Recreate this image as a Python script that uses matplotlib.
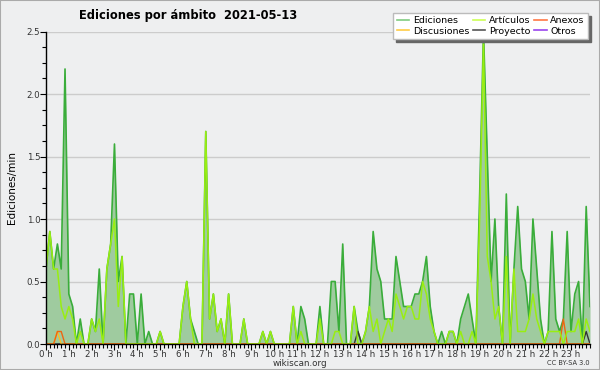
import numpy as np
import matplotlib
matplotlib.use('Agg')
import matplotlib.pyplot as plt
from matplotlib.lines import Line2D
from matplotlib.patches import Rectangle

# edits per minute, 10 minute bins (6 per hour)
ediciones = [
    0.6, 0.9, 0.6, 0.8, 0.6, 2.2,
    0.4, 0.3, 0.0, 0.2, 0.0, 0.0,
    0.2, 0.1, 0.6, 0.0, 0.6, 0.8,
    1.6, 0.5, 0.7, 0.0, 0.4, 0.4,
    0.0, 0.4, 0.0, 0.1, 0.0, 0.0,
    0.1, 0.0, 0.0, 0.0, 0.0, 0.0,
    0.3, 0.5, 0.2, 0.1, 0.0, 0.0,
    1.7, 0.2, 0.4, 0.1, 0.2, 0.0,
    0.4, 0.0, 0.0, 0.0, 0.2, 0.0,
    0.0, 0.0, 0.0, 0.1, 0.0, 0.1,
    0.0, 0.0, 0.0, 0.0, 0.0, 0.3,
    0.0, 0.3, 0.2, 0.0, 0.0, 0.0,
    0.3, 0.0, 0.0, 0.5, 0.5, 0.1,
    0.8, 0.0, 0.0, 0.3, 0.1, 0.0,
    0.1, 0.3, 0.9, 0.6, 0.5, 0.2,
    0.2, 0.2, 0.7, 0.5, 0.3, 0.3,
    0.3, 0.4, 0.4, 0.5, 0.7, 0.3,
    0.1, 0.0, 0.1, 0.0, 0.1, 0.1,
    0.0, 0.2, 0.3, 0.4, 0.2, 0.0,
    1.2, 2.5, 1.5, 0.5, 1.0, 0.3,
    0.0, 1.2, 0.0, 0.6, 1.1, 0.6,
    0.5, 0.2, 1.0, 0.6, 0.2, 0.0,
    0.1, 0.9, 0.2, 0.1, 0.2, 0.9,
    0.1, 0.4, 0.5, 0.0, 1.1, 0.3,
]
articulos = [
    0.6, 0.9, 0.6, 0.6, 0.3, 0.2,
    0.3, 0.2, 0.0, 0.1, 0.0, 0.0,
    0.2, 0.1, 0.2, 0.0, 0.6, 0.8,
    1.0, 0.3, 0.7, 0.0, 0.0, 0.0,
    0.0, 0.0, 0.0, 0.0, 0.0, 0.0,
    0.1, 0.0, 0.0, 0.0, 0.0, 0.0,
    0.3, 0.5, 0.2, 0.0, 0.0, 0.0,
    1.7, 0.2, 0.4, 0.1, 0.2, 0.0,
    0.4, 0.0, 0.0, 0.0, 0.2, 0.0,
    0.0, 0.0, 0.0, 0.1, 0.0, 0.1,
    0.0, 0.0, 0.0, 0.0, 0.0, 0.3,
    0.0, 0.1, 0.0, 0.0, 0.0, 0.0,
    0.2, 0.0, 0.0, 0.0, 0.1, 0.1,
    0.0, 0.0, 0.0, 0.3, 0.0, 0.0,
    0.1, 0.3, 0.1, 0.2, 0.0, 0.1,
    0.2, 0.1, 0.4, 0.3, 0.2, 0.3,
    0.3, 0.2, 0.2, 0.5, 0.4, 0.2,
    0.1, 0.0, 0.0, 0.0, 0.1, 0.1,
    0.0, 0.1, 0.0, 0.0, 0.1, 0.0,
    1.0, 2.4, 0.7, 0.5, 0.2, 0.3,
    0.0, 0.7, 0.0, 0.6, 0.1, 0.1,
    0.1, 0.2, 0.4, 0.2, 0.1, 0.0,
    0.1, 0.1, 0.1, 0.1, 0.0, 0.1,
    0.1, 0.1, 0.2, 0.0, 0.2, 0.1,
]
# sparse series: bin index -> value
anexos_pts = {3: 0.1, 4: 0.1, 136: 0.2}
discusiones_pts = {3: 0.1}
proyecto_pts = {82: 0.1, 142: 0.1}
otros_pts = {}

hours = list(range(24))
hour_labels = [f"{h} h" for h in hours]

n = len(ediciones)
x = np.arange(n) / 6.0


def sparse(pts):
    s = np.zeros(n)
    for k, v in pts.items():
        s[k] = v
    return s


anexos = sparse(anexos_pts)
discusiones = sparse(discusiones_pts)
proyecto = sparse(proyecto_pts)
otros = sparse(otros_pts)

bg = '#eeeff0'
fig = plt.figure(figsize=(6, 3.7), dpi=100, facecolor=bg)
ax = fig.add_axes([46 / 600, 1 - 344 / 370, 544 / 600, 312.5 / 370])
ax.set_facecolor(bg)

ax.fill_between(x, 0, ediciones, color='#9fcb9f', lw=0, zorder=2)
ax.plot(x, ediciones, color='#3aad3a', lw=1.2, zorder=3)
ax.plot(x, otros, color='#9933ee', lw=1.0, zorder=3)
ax.plot(x, proyecto, color='#333333', lw=1.0, zorder=4)
ax.plot(x, discusiones, color='#ffbb22', lw=1.0, zorder=4)
ax.plot(x, anexos, color='#ee6611', lw=1.0, zorder=4)
ax.plot(x, articulos, color='#99ee11', lw=1.1, zorder=5)

ax.set_xlim(0, x[-1])
ax.set_ylim(0, 2.5)

ax.set_xticks(hours)
ax.set_xticklabels(hour_labels)
ax.set_xticks(x, minor=True)
ax.set_yticks([0, 0.5, 1.0, 1.5, 2.0, 2.5])
ax.set_yticklabels(['0.0', '0.5', '1.0', '1.5', '2.0', '2.5'])
ax.set_yticks(np.arange(0, 2.51, 0.125), minor=True)
ax.tick_params(axis='both', which='both', direction='out', labelsize=6.2,
               labelcolor='#333333', color='black', width=0.8)
ax.tick_params(axis='both', which='major', length=4, pad=0)
ax.tick_params(axis='both', which='minor', length=3)

ax.yaxis.grid(True, color='#cccccc', lw=1.0, zorder=0)
ax.set_axisbelow(True)
for s in ['top', 'right']:
    ax.spines[s].set_visible(False)
for s in ['left', 'bottom']:
    ax.spines[s].set_color('black')
    ax.spines[s].set_linewidth(1.0)
    ax.spines[s].set_zorder(6)

fig.text(188 / 600, 1 - 16 / 370, 'Ediciones por ámbito  2021-05-13',
         ha='center', va='center', fontsize=8.3, fontweight='bold')
fig.text(12 / 600, 1 - 188 / 370, 'Ediciones/min', rotation=90,
         ha='center', va='center', fontsize=7.5)
fig.text(0.5, 1 - 363 / 370, 'wikiscan.org', ha='center', va='center',
         fontsize=6.3, color='#333333')
fig.text(590 / 600, 1 - 363 / 370, 'CC BY-SA 3.0', ha='right', va='center',
         fontsize=4.8, color='#333333')

handles = [
    Line2D([], [], color='#80cc80', lw=1.2),
    Line2D([], [], color='#ffcc44', lw=1.2),
    Line2D([], [], color='#ccff55', lw=1.2),
    Line2D([], [], color='#555555', lw=1.2),
    Line2D([], [], color='#ff7744', lw=1.2),
    Line2D([], [], color='#9944ee', lw=1.2),
]
labels = ['Ediciones', 'Discusiones', 'Artículos', 'Proyecto', 'Anexos', 'Otros']
leg = fig.legend(handles, labels, ncol=3, loc='upper right',
                 bbox_to_anchor=(588 / 600, 1 - 13 / 370), fontsize=6.8,
                 frameon=True, fancybox=False, edgecolor='#bbbbbb',
                 facecolor='white', framealpha=1,
                 shadow={'color': '#666666', 'alpha': 1},
                 handlelength=1.3, handletextpad=0.4, columnspacing=0.4,
                 labelspacing=0.15, borderpad=0.35, borderaxespad=0)
leg.set_zorder(10)

fig.patches.append(Rectangle((0, 0), 1, 1, transform=fig.transFigure,
                             fill=False, edgecolor='#aaaaaa', lw=1.5))

plt.savefig('out.png', dpi=100, facecolor=bg)
